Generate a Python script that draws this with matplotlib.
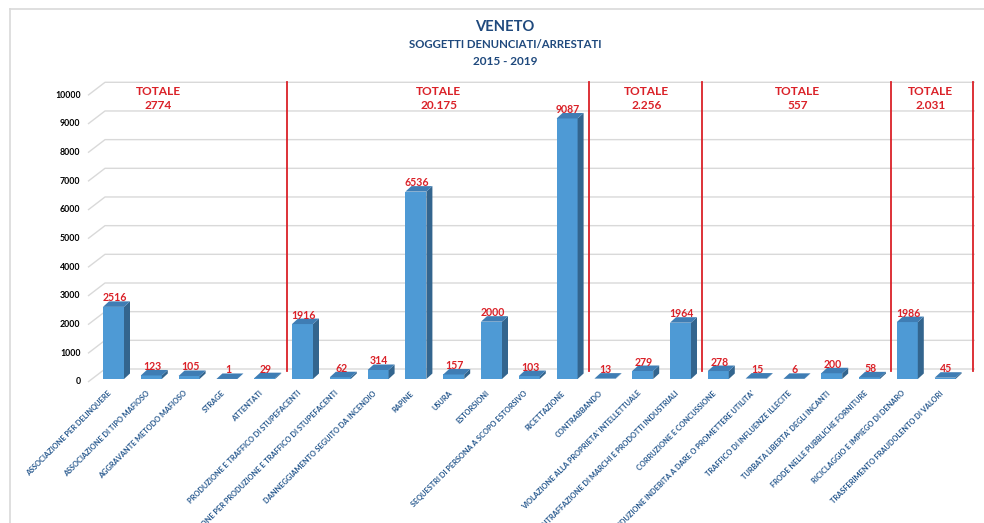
import matplotlib
matplotlib.use("Agg")
import matplotlib.pyplot as plt
from matplotlib.patches import Polygon
from matplotlib.lines import Line2D
from matplotlib.transforms import blended_transform_factory

# ---- data -------------------------------------------------------------
categories = [
    "ASSOCIAZIONE PER DELINQUERE",
    "ASSOCIAZIONE DI TIPO MAFIOSO",
    "AGGRAVANTE METODO MAFIOSO",
    "STRAGE",
    "ATTENTATI",
    "PRODUZIONE E TRAFFICO DI STUPEFACENTI",
    "ASSOCIAZIONE PER PRODUZIONE E TRAFFICO DI STUPEFACENTI",
    "DANNEGGIAMENTO SEGUITO DA INCENDIO",
    "RAPINE",
    "USURA",
    "ESTORSIONI",
    "SEQUESTRI DI PERSONA A SCOPO ESTORSIVO",
    "RICETTAZIONE",
    "CONTRABBANDO",
    "VIOLAZIONE ALLA PROPRIETA' INTELLETTUALE",
    "CONTRAFFAZIONE DI MARCHI E PRODOTTI INDUSTRIALI",
    "CORRUZIONE E CONCUSSIONE",
    "INDUZIONE INDEBITA A DARE O PROMETTERE UTILITA'",
    "TRAFFICO DI INFLUENZE ILLECITE",
    "TURBATA LIBERTA' DEGLI INCANTI",
    "FRODE NELLE PUBBLICHE FORNITURE",
    "RICICLAGGIO E IMPIEGO DI DENARO",
    "TRASFERIMENTO FRAUDOLENTO DI VALORI",
]
values = [2516, 123, 105, 1, 29,
          1916, 62, 314, 6536, 157, 2000, 103, 9087,
          13, 279, 1964,
          278, 15, 6, 200, 58,
          1986, 45]
group_sizes = [5, 8, 3, 5, 2]
group_totals = ["2774", "20.175", "2.256", "557", "2.031"]
y_ticks = [0, 1000, 2000, 3000, 4000, 5000, 6000, 7000, 8000, 9000, 10000]
title_lines = ["VENETO", "SOGGETTI DENUNCIATI/ARRESTATI", "2015 - 2019"]

# ---- style -------------------------------------------------------------
FONT = "Lato"
BLUE_TXT = "#1F497D"
LABEL_BLUE = "#24568C"
RED = "#DA2128"
FRONT = "#4E9AD5"
SIDE = "#33658E"
TOP = "#3F7DB4"
GRID = "#D9D9D9"

W, H, DPI = 984, 523, 100
PT = 72.0 / DPI  # points per pixel

fig = plt.figure(figsize=(W / DPI, H / DPI), dpi=DPI)
fig.patch.set_facecolor("white")

# plot area in pixels
L, R, T, B = 96.5, 975.0, 80.0, 379.0
step_px = 37.8      # pixels per category
unit_px = 0.02867   # pixels per unit of value
ax = fig.add_axes([L / W, 1 - B / H, (R - L) / W, (B - T) / H])
x_left = -0.45
x_right = x_left + (R - L) / step_px
ax.set_xlim(x_left, x_right)
ax.set_ylim(0, (B - T) / unit_px)
ax.axis("off")

ux = 1.0 / step_px  # data units per pixel (x)
uy = 1.0 / unit_px  # data units per pixel (y)

# outer frame (left and top edges)
fig.add_artist(Line2D([9.5 / W, 9.5 / W], [0, 1 - 8.5 / H], color=GRID, lw=1.2))
fig.add_artist(Line2D([9.5 / W, 1], [1 - 8.5 / H, 1 - 8.5 / H], color=GRID, lw=1.2))

# gridlines drawn in perspective: short slant on the left, then back wall
for v in y_ticks:
    xs = [x_left - 8.5 * ux, x_left + 8.5 * ux, x_right]
    ys = [v - 3 * uy, v + 10 * uy, v + 10 * uy]
    ax.plot(xs, ys, color=GRID, lw=1.0, zorder=1, clip_on=False,
            solid_capstyle="butt")
    ax.annotate(str(v), xy=(x_left, v), xytext=(-16 * PT, -3 * PT),
                textcoords="offset points", ha="right", va="center",
                fontsize=6.3, fontweight="bold", color="black",
                family=FONT, annotation_clip=False)

# 3D-style columns
w = 0.555
dx, dy = 6.0 * ux, 5.5 * uy
xpos = list(range(len(values)))
ax.bar(xpos, values, width=w, color=FRONT, linewidth=0, zorder=3)
for x, v in zip(xpos, values):
    xr, xl = x + w / 2, x - w / 2
    side = Polygon([(xr, 0), (xr + dx, dy), (xr + dx, v + dy), (xr, v)],
                   closed=True, facecolor=SIDE, edgecolor="none", zorder=3)
    top = Polygon([(xl, v), (xr, v), (xr + dx, v + dy), (xl + dx, v + dy)],
                  closed=True, facecolor=TOP, edgecolor="none", zorder=4)
    ax.add_patch(side)
    ax.add_patch(top)
    ax.annotate(str(v), xy=(x, v), xytext=(1 * PT, 5.5 * PT),
                textcoords="offset points", ha="center", va="baseline",
                fontsize=7.6, fontweight="bold", color=RED, family=FONT,
                zorder=5, annotation_clip=False)

# category labels
for x, cat in zip(xpos, categories):
    ax.annotate(cat, xy=(x, 0), xytext=(-3 * PT, -13 * PT),
                textcoords="offset points", rotation=45,
                rotation_mode="anchor", ha="right", va="center",
                fontsize=5.3, fontweight="bold", color=LABEL_BLUE,
                family=FONT, annotation_clip=False)

# group separators and totals
yfrac = blended_transform_factory(ax.transData, ax.transAxes)
start = 0
group_x_nudge = [-35, 0, 0, 0, 0]
for k, (n, tot) in enumerate(zip(group_sizes, group_totals)):
    end = start + n
    sep_x = end - 0.5 + 3 * ux
    if k == len(group_sizes) - 1:
        sep_x = x_right - 2.5 * ux
    ax.plot([sep_x, sep_x], [8 / (B - T), 1 - 2 / (B - T)], color=RED,
            lw=1.3, transform=yfrac, clip_on=False, zorder=2)
    cx = (start + end - 1) / 2.0 + 4 * ux + group_x_nudge[k] * ux
    ax.annotate("TOTALE", xy=(cx, 1), xycoords=yfrac,
                xytext=(0, -15 * PT), textcoords="offset points",
                ha="center", va="baseline", fontsize=8.6,
                fontweight="bold", color=RED, family=FONT,
                annotation_clip=False)
    ax.annotate(tot, xy=(cx, 1), xycoords=yfrac,
                xytext=(0, -29.3 * PT), textcoords="offset points",
                ha="center", va="baseline", fontsize=8.6,
                fontweight="bold", color=RED, family=FONT,
                annotation_clip=False)
    start = end

# title block
cx_title = 505 / W
fig.text(cx_title, 1 - 30.7 / H, title_lines[0], ha="center", va="baseline",
         fontsize=10.6, fontweight="bold", color=BLUE_TXT, family=FONT)
fig.text(cx_title, 1 - 47.7 / H, title_lines[1], ha="center", va="baseline",
         fontsize=8.2, fontweight="bold", color=BLUE_TXT, family=FONT)
fig.text(cx_title, 1 - 65.0 / H, title_lines[2], ha="center", va="baseline",
         fontsize=8.5, fontweight="bold", color=BLUE_TXT, family=FONT)

fig.savefig("out.png", dpi=DPI, facecolor="white")
